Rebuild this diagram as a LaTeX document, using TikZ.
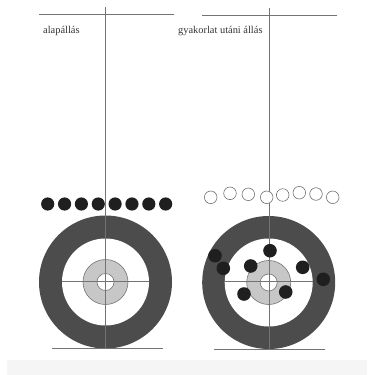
\documentclass[tikz,border=0pt]{standalone}
\usepackage{fontspec}
\setmainfont{Liberation Serif}
\begin{document}
\begin{tikzpicture}[x=1pt,y=-1pt,
  axis/.style={draw=black!55,line width=0.7pt},
  ringout/.style={fill=black!70},
  ringin/.style={fill=white},
  bull/.style={fill=black!22,draw=black!55,line width=0.6pt},
  eye/.style={fill=white,draw=black!55,line width=0.6pt},
  shot/.style={fill=black!88},
  hole/.style={draw=black!55,fill=white,line width=0.6pt},
  lbl/.style={font=\fontsize{10.4}{12}\selectfont,text=black!80,inner sep=0pt,anchor=west}]
\useasboundingbox (0,0) rectangle (367,375);
\fill[black!4] (7,360) rectangle (367,375);
% ---------- left target ----------
\fill[ringout] (105.5,282) circle (66.5);
\fill[ringin] (105.5,282) circle (43.5);
\draw[bull] (105.5,282) circle (22.5);
\draw[eye] (105.5,282) circle (8.5);
\coordinate (lt) at (105,7);
\coordinate (lb) at (105,349);
\coordinate (lhl) at (39,14);
\coordinate (lhr) at (174,14);
\coordinate (lcl) at (62,281);
\coordinate (lcr) at (149,281);
\coordinate (lbl1) at (52,348);
\coordinate (lbr1) at (163,348);
\draw[axis] (lt) -- (lb);
\draw[axis] (lhl) -- (lhr);
\draw[axis] (lcl) -- (lcr);
\draw[axis] (lbl1) -- (lbr1);
\node[lbl] (la) at (43,31) {alapállás};
\foreach \i in {0,...,7}{
  \fill[shot] ({47.7+\i*16.85},204) circle (6.6);
}
% ---------- right target ----------
\fill[ringout] (268.7,282.5) circle (66.5);
\fill[ringin] (268.7,282.5) circle (44);
\draw[bull] (268.7,282.5) circle (22);
\draw[eye] (268.7,282.5) circle (8.5);
\coordinate (rt) at (269,8);
\coordinate (rb) at (269,349);
\coordinate (rhl) at (202,15);
\coordinate (rhr) at (337,15);
\coordinate (rcl) at (224,281.7);
\coordinate (rcr) at (313,281.7);
\coordinate (rbl1) at (214,349);
\coordinate (rbr1) at (325,349);
\draw[axis] (rt) -- (rb);
\draw[axis] (rhl) -- (rhr);
\draw[axis] (rcl) -- (rcr);
\draw[axis] (rbl1) -- (rbr1);
\node[lbl] (ra) at (178,31) {gyakorlat utáni állás};
\foreach \x/\y in {210.7/197.3,230/193.3,248.3/194.3,266.7/197.3,282.7/195,299.3/192.7,316/194,332.7/197.3}{
  \draw[hole] (\x,\y) circle (6.3);
}
\foreach \x/\y in {215/255.7,223.3/268.3,250.7/266,270/250.7,302.7/267.3,323.3/279.3,244/294,285.7/292}{
  \fill[shot] (\x,\y) circle (6.8);
}
\end{tikzpicture}
\end{document}
